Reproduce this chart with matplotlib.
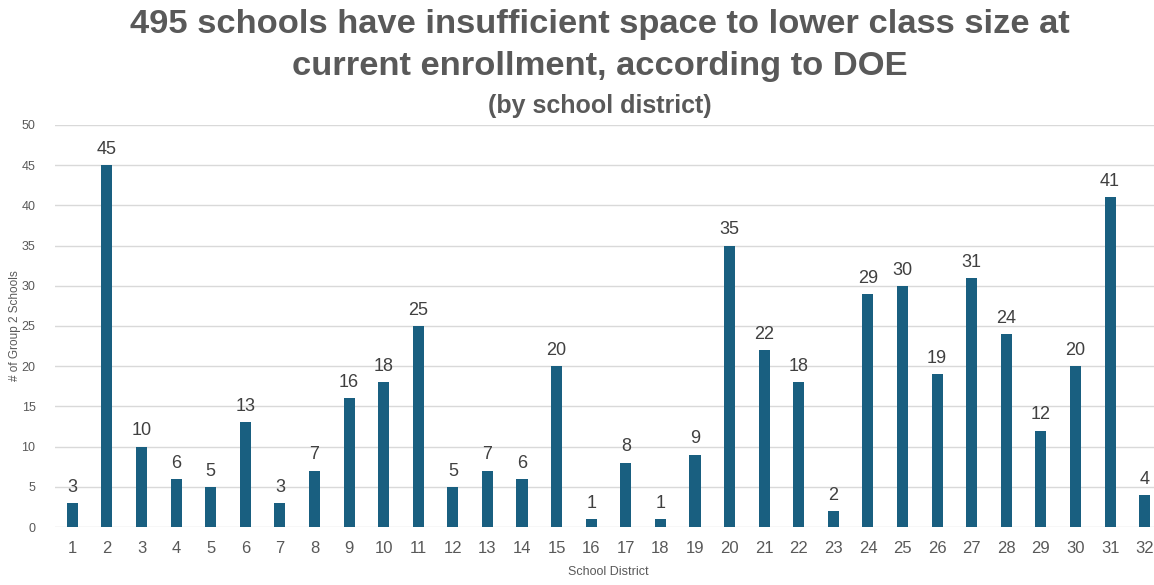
import matplotlib
matplotlib.use("Agg")
import matplotlib.pyplot as plt

districts = [str(i) for i in range(1, 33)]
counts = [3, 45, 10, 6, 5, 13, 3, 7, 16, 18, 25, 5, 7, 6, 20, 1, 8, 1, 9, 35,
          22, 18, 2, 29, 30, 19, 31, 24, 12, 20, 41, 4]
yticks = list(range(0, 55, 5))

plt.rcParams['font.family'] = ['Liberation Sans', 'DejaVu Sans']

W, H = 1154, 585
fig = plt.figure(figsize=(W / 100, H / 100), dpi=100)
left = 55 / W
right = 1162 / W
bottom = (H - 527) / H
top = (H - 125) / H
ax = fig.add_axes([left, bottom, right - left, top - bottom])

x = list(range(len(districts)))
bars = ax.bar(x, counts, width=0.32, color='#195F80', zorder=3)
for xi, v in zip(x, counts):
    ax.text(xi, v + 0.9, str(v), ha='center', va='bottom', fontsize=13,
            color='#404040')

ax.set_xlim(-0.5, len(districts) - 0.5)
ax.set_ylim(0, 50)
ax.set_yticks(yticks)
ax.set_xticks(x)
ax.set_xticklabels(districts, fontsize=12, color='#595959')
ax.tick_params(axis='y', labelsize=9, colors='#595959', length=0, pad=14)
ax.tick_params(axis='x', length=0, pad=10)
ax.grid(axis='y', color='#D9D9D9', linewidth=1, zorder=0)
for s in ax.spines.values():
    s.set_visible(False)

ax.set_xlabel('School District', fontsize=9, color='#595959', labelpad=7)
fig.text(15 / W, (H - 326) / H, '# of Group 2 Schools', rotation=90,
         ha='center', va='center', fontsize=8.5, color='#595959')

cx = 600 / W
fig.text(cx, 1 - 24 / H, '495 schools have insufficient space to lower class size at',
         ha='center', va='center', fontsize=24.8, fontweight='bold', color='#595959')
fig.text(cx, 1 - 66 / H, 'current enrollment, according to DOE',
         ha='center', va='center', fontsize=24.8, fontweight='bold', color='#595959')
fig.text(cx, 1 - 106 / H, '(by school district)',
         ha='center', va='center', fontsize=18, fontweight='bold', color='#595959')

fig.savefig('out.png', dpi=100)
